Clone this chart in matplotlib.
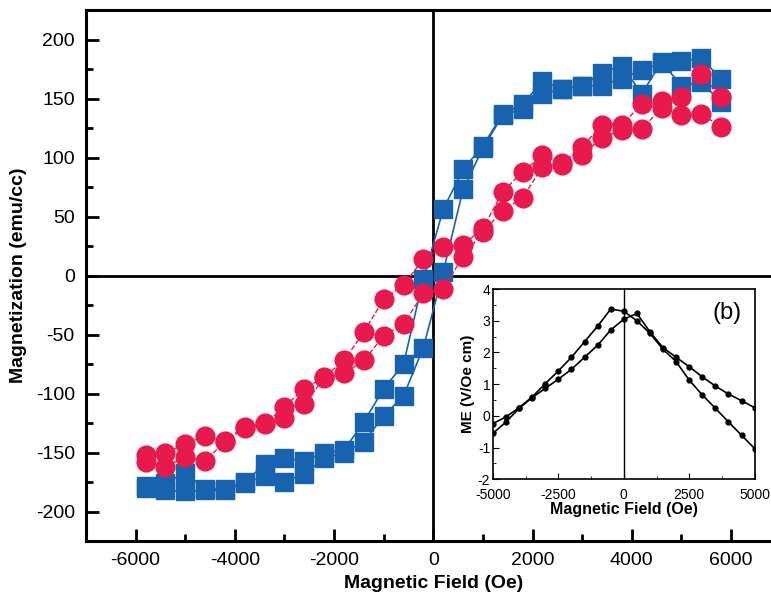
import numpy as np
import matplotlib
matplotlib.use("Agg")
import matplotlib.pyplot as plt
from matplotlib.ticker import MultipleLocator

plt.rcParams['font.family'] = ['Liberation Sans', 'DejaVu Sans']
plt.rcParams['axes.unicode_minus'] = False

# main panel: field steps (Oe) shared by all branches
field = [-5800, -5400, -5000, -4600, -4200, -3800, -3400, -3000, -2600, -2200,
         -1800, -1400, -1000, -600, -200, 200, 600, 1000, 1400, 1800,
         2200, 2600, 3000, 3400, 3800, 4200, 4600, 5000, 5400, 5800]

# blue squares, two branches of the loop (emu/cc)
blue_down = [-178, -176, -167, -181, -181, -175, -160, -155, -157, -150,
             -148, -124, -96, -75, -3, 56, 90, 110, 137, 145,
             165, 158, 161, 172, 178, 154, 181, 161, 164, 147]
blue_up = [-180, -182, -183, -182, -182, -176, -170, -175, -168, -155,
           -150, -141, -119, -102, -61, 3, 73, 108, 136, 141,
           154, 158, 161, 161, 167, 174, 180, 182, 184, 167]

# red circles, two branches of the loop (emu/cc)
red_down = [-152, -150, -143, -136, -140, -128, -126, -111, -96, -86,
            -72, -48, -20, -8, 14, 24, 26, 40, 71, 88,
            102, 95, 109, 128, 128, 145, 148, 151, 171, 151]
red_up = [-158, -162, -154, -157, -141, -129, -125, -121, -109, -87,
          -83, -72, -51, -41, -15, -11, 16, 37, 55, 66,
          92, 94, 102, 117, 123, 124, 142, 136, 137, 126]

# inset (b): ME coefficient vs field
me_field = [-5000, -4500, -4000, -3500, -3000, -2500, -2000, -1500, -1000, -500,
            0, 500, 1000, 1500, 2000, 2500, 3000, 3500, 4000, 4500, 5000]
me_up = [-0.55, -0.19, 0.24, 0.58, 0.87, 1.16, 1.47, 1.85, 2.23, 2.71,
         3.05, 3.23, 2.65, 2.15, 1.85, 1.55, 1.23, 0.94, 0.69, 0.48, 0.26]
me_down = [-0.24, -0.03, 0.26, 0.60, 1.02, 1.42, 1.85, 2.34, 2.83, 3.37,
           3.30, 3.00, 2.60, 2.10, 1.71, 1.13, 0.66, 0.24, -0.19, -0.61, -1.03]

blue = '#1763b0'
red = '#e8194c'

fig = plt.figure(figsize=(7.71, 6.04), dpi=100)
ax = fig.add_axes([0.1115, 0.1043, 0.901, 0.879])

for ys in (blue_down, blue_up):
    ax.plot(field, ys, '-', color=blue, lw=1.2, marker='s', ms=13.5,
            mfc=blue, mec=blue, zorder=3)
for ys in (red_down, red_up):
    ax.plot(field, ys, '--', color=red, lw=1.0, marker='o', ms=13.5,
            mfc=red, mec=red, zorder=4)

ax.axhline(0, color='black', lw=2, zorder=2)
ax.axvline(0, color='black', lw=2, zorder=2)

ax.set_xlim(-7000, 7000)
ax.set_ylim(-225, 225)
ax.xaxis.set_major_locator(MultipleLocator(2000))
ax.xaxis.set_minor_locator(MultipleLocator(1000))
ax.yaxis.set_major_locator(MultipleLocator(50))
ax.yaxis.set_minor_locator(MultipleLocator(25))
ax.tick_params(which='both', direction='in', top=False, right=False,
               labelsize=14, width=2)
ax.tick_params(which='major', length=9, pad=8)
ax.tick_params(which='minor', length=5)
for s in ax.spines.values():
    s.set_linewidth(2.2)
ax.set_xlabel('Magnetic Field (Oe)', fontsize=14, fontweight='bold', labelpad=4)
ax.set_ylabel('Magnetization (emu/cc)', fontsize=14, fontweight='bold', labelpad=6)

# inset
ins = fig.add_axes([0.6394, 0.2064, 0.3394, 0.315])
ins.plot(me_field, me_up, '-', color='black', lw=1.2, marker='o', ms=3.5)
ins.plot(me_field, me_down, '-', color='black', lw=1.2, marker='o', ms=3.5)
ins.axvline(0, color='black', lw=1)
ins.set_xlim(-5000, 5000)
ins.set_ylim(-2, 4)
ins.set_xticks([-5000, -2500, 0, 2500, 5000])
ins.xaxis.set_minor_locator(MultipleLocator(1250))
ins.yaxis.set_major_locator(MultipleLocator(1))
ins.yaxis.set_minor_locator(MultipleLocator(0.5))
ins.tick_params(which='both', direction='in', labelsize=10)
ins.tick_params(axis='x', pad=6)
ins.tick_params(axis='y', pad=2)
ins.tick_params(which='major', length=4)
ins.tick_params(which='minor', length=2.5)
for s in ins.spines.values():
    s.set_linewidth(1.2)
ins.set_xlabel('Magnetic Field (Oe)', fontsize=11.5, fontweight='bold', labelpad=0)
ins.set_ylabel('ME (V/Oe cm)', fontsize=11, fontweight='bold', labelpad=2)
ins.text(0.95, 0.93, '(b)', transform=ins.transAxes, ha='right', va='top',
         fontsize=17)

fig.savefig('out.png', dpi=100)
